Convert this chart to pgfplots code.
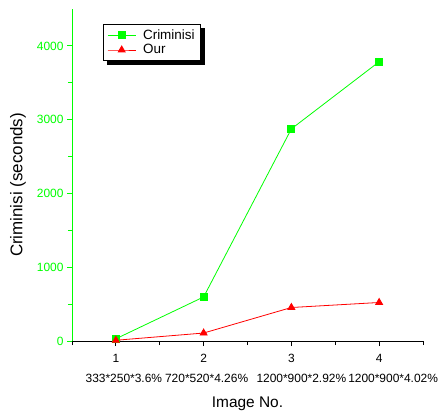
\documentclass[border=0pt]{standalone}
\usepackage{fontspec}
\setmainfont{Liberation Sans}
\usepackage{pgfplots}
\pgfplotsset{compat=1.18}
\usetikzlibrary{backgrounds}
\definecolor{cgreen}{RGB}{0,255,0}
\definecolor{cred}{RGB}{255,0,0}
\begin{document}
\begin{tikzpicture}
\begin{axis}[
  scale only axis, width=351bp, height=332bp,
  xmin=0.5, xmax=4.5, ymin=0, ymax=4500,
  axis x line*=bottom, axis y line*=left,
  axis line style={-},
  x axis line style={black, line width=0.8pt},
  y axis line style={cgreen, line width=0.8pt},
  xtick={1,2,3,4}, minor xtick={0.5,1.5,2.5,3.5,4.5},
  ytick={0,1000,2000,3000,4000}, minor ytick={500,1500,2500,3500},
  tick align=outside,
  major tick length=5bp, minor tick length=4bp,
  x tick style={black, line width=0.8pt},
  y tick style={cgreen, line width=0.8pt},
  xticklabels={1\\[6pt]\hspace*{16bp}333*250*3.6\%, 2\\[6pt]\hspace*{6bp}720*520*4.26\%, 3\\[6pt]\hspace*{20bp}1200*900*2.92\%, 4\\[6pt]\hspace*{28bp}1200*900*4.02\%},
  xticklabel style={align=center, font=\fontsize{12}{14}\selectfont, yshift=-5bp},
  yticklabel style={cgreen, font=\fontsize{12}{14}\selectfont},
  /pgf/number format/assume math mode=true,
  /pgf/number format/1000 sep={},
  xlabel={Image No.}, ylabel={Criminisi (seconds)},
  xlabel style={font=\fontsize{15.5}{18}\selectfont, at={(axis description cs:0.5,-0.19)}, anchor=center},
  ylabel style={font=\fontsize{17}{20}\selectfont, at={(axis description cs:-0.154,0.47)}, anchor=center},
  legend style={name=leg, at={(axis description cs:0.088,0.955)}, anchor=north west, draw=black, fill=white, line width=0.8pt,
    font=\fontsize{13.5}{16}\selectfont, inner xsep=4bp, inner ysep=3bp,
    /tikz/every odd column/.append style={column sep=5bp}},
  legend cell align=left,
  legend image code/.code={\draw[mark repeat=2,mark phase=2] plot coordinates {(0bp,0bp) (14bp,0bp) (28bp,0bp)};},
]
\coordinate (sw) at (rel axis cs:0,0);
\coordinate (ne) at (rel axis cs:1,1);
\addplot[cgreen, line width=0.8pt, mark=square*, mark size=3.5bp, mark options={solid}] coordinates {(1,30) (2,597) (3,2875) (4,3785)};
\addlegendentry{Criminisi}
\addplot[cred, line width=0.8pt, mark=triangle*, mark size=4bp, mark options={solid}] coordinates {(1,10) (2,108) (3,454) (4,522)};
\addlegendentry{Our}
\end{axis}
\begin{pgfonlayer}{background}
\fill[black] ([shift={(4bp,-4bp)}]leg.south west) rectangle ([shift={(4bp,-4bp)}]leg.north east);
\end{pgfonlayer}
\pgfresetboundingbox
\path ([shift={(-72bp,-75bp)}]sw) rectangle ([shift={(15bp,9bp)}]ne);
\end{tikzpicture}
\end{document}
